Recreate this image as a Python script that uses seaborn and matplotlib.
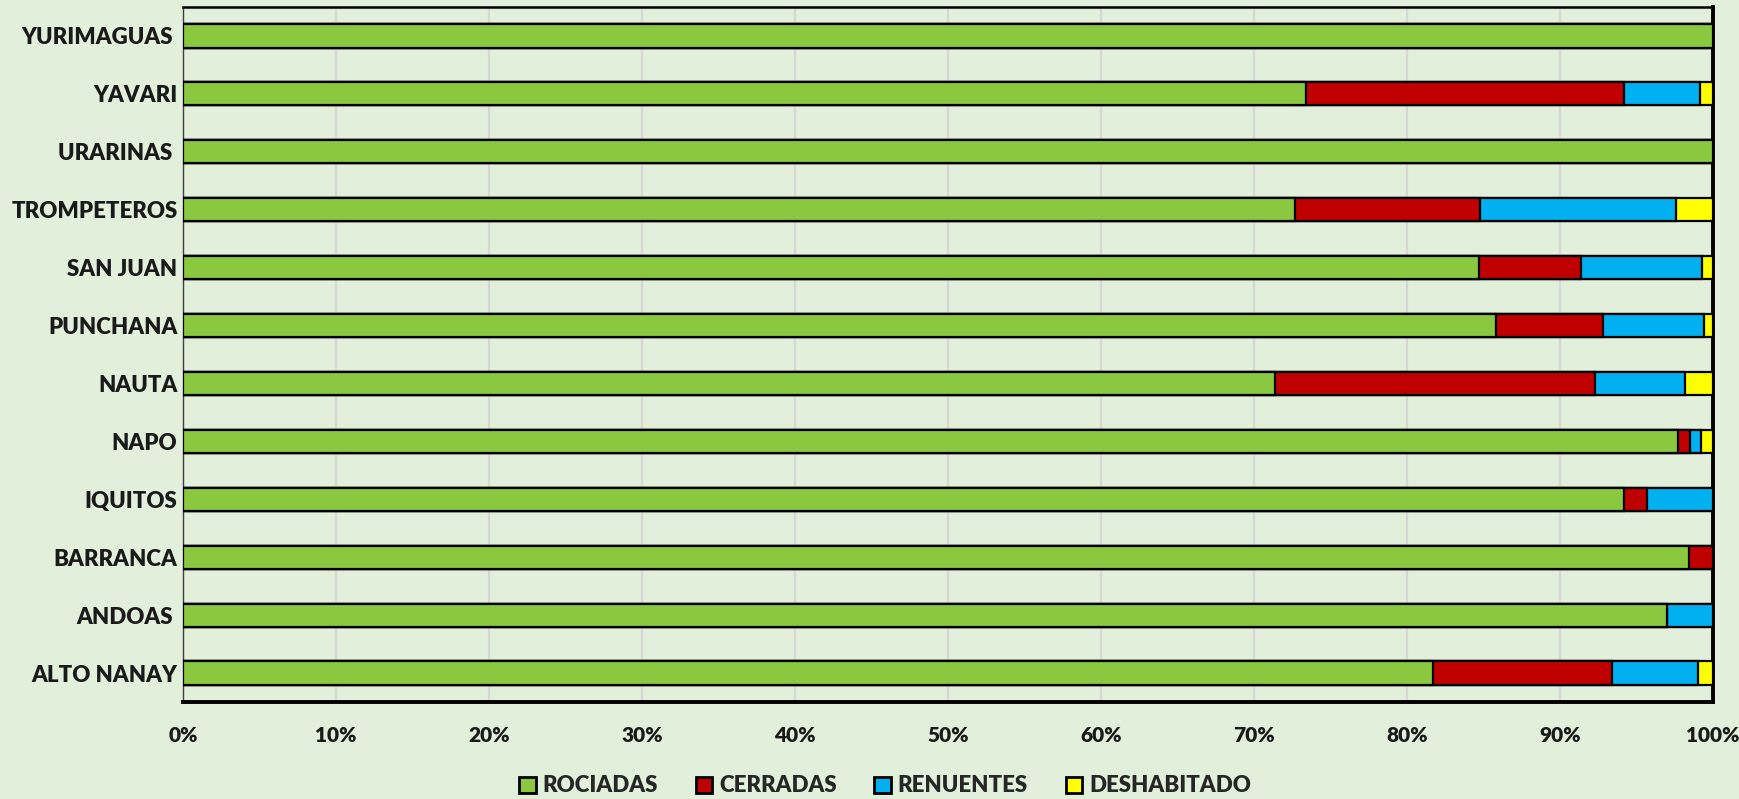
import numpy as np
import pandas as pd
import seaborn as sns
import matplotlib.pyplot as plt
from matplotlib.patches import Patch
from matplotlib.ticker import PercentFormatter

# ─── Data (percent of houses per district) ───────────────────────────────────

distritos = ["YURIMAGUAS ", "YAVARI", "URARINAS ", "TROMPETEROS", "SAN JUAN",
             "PUNCHANA", "NAUTA", "NAPO", "IQUITOS", "BARRANCA", "ANDOAS ",
             "ALTO NANAY"]
rociadas = [100.0, 73.4, 100.0, 72.7, 84.7, 85.8, 71.4, 97.7, 94.2, 98.4, 97.0, 81.7]
cerradas = [0.0, 20.8, 0.0, 12.1, 6.7, 7.0, 20.9, 0.8, 1.5, 1.6, 0.0, 11.7]
renuentes = [0.0, 4.95, 0.0, 12.8, 7.9, 6.6, 5.9, 0.7, 4.3, 0.0, 3.0, 5.6]
deshabitado = [0.0, 0.85, 0.0, 2.4, 0.7, 0.6, 1.8, 0.8, 0.0, 0.0, 0.0, 1.0]

series = ["ROCIADAS", "CERRADAS", "RENUENTES", "DESHABITADO"]
colores = ["#8AC93F", "#C00000", "#00B0F0", "#FFFF00"]

df = pd.DataFrame({"distrito": distritos, "ROCIADAS": rociadas,
                   "CERRADAS": cerradas, "RENUENTES": renuentes,
                   "DESHABITADO": deshabitado})
acum = df[series].cumsum(axis=1)

# ─── Plot ────────────────────────────────────────────────────────────────────

bg = "#E2EFDA"
sns.set_theme(style="white")
plt.rcParams["font.family"] = ["Lato", "DejaVu Sans"]
plt.rcParams["font.weight"] = "heavy"

fig = plt.figure(figsize=(17.39, 7.99), dpi=100, facecolor=bg)
ax = fig.add_axes([183 / 1739, 1 - 702 / 799, 1530 / 1739, 695 / 799])
ax.set_facecolor(bg)

# stacked bars: draw cumulative totals from last to first
for s, c in reversed(list(zip(series, colores))):
    sns.barplot(x=acum[s], y=df["distrito"], color=c, orient="h", width=0.4,
                saturation=1, edgecolor="black", linewidth=1.6, ax=ax, zorder=3)

ax.set_xlim(0, 100)
ax.set_ylim(11.5, -0.5)
ax.xaxis.set_major_locator(plt.MultipleLocator(10))
ax.xaxis.set_major_formatter(PercentFormatter(decimals=0))
ax.grid(axis="x", color="#D6D6D6", linewidth=1.5, zorder=0)
ax.set_axisbelow(True)
ax.set_xlabel("")
ax.set_ylabel("")
ax.tick_params(axis="x", length=0, pad=17, labelsize=15, labelcolor="#1A1A1A")
ax.tick_params(axis="y", length=0, pad=4, labelsize=16, labelcolor="#1A1A1A")

for side, lw, col in [("top", 1.8, "black"), ("right", 2.8, "black"),
                      ("bottom", 2.8, "black"), ("left", 1.0, "#404040")]:
    ax.spines[side].set_visible(True)
    ax.spines[side].set_linewidth(lw)
    ax.spines[side].set_color(col)

handles = [Patch(facecolor=c, edgecolor="black", linewidth=2, label=s)
           for s, c in zip(series, colores)]
leg = fig.legend(handles=handles, loc="center", bbox_to_anchor=(885 / 1739, 1 - 786 / 799),
                 ncol=4, frameon=False, prop={"weight": "heavy", "size": 16},
                 handlelength=0.75, handleheight=0.75, handletextpad=0.3,
                 columnspacing=1.7)

fig.canvas.draw()
for lbl in ax.get_xticklabels() + ax.get_yticklabels() + leg.get_texts():
    lbl.set_fontweight("heavy")

plt.savefig("out.png", dpi=100, facecolor=bg)
